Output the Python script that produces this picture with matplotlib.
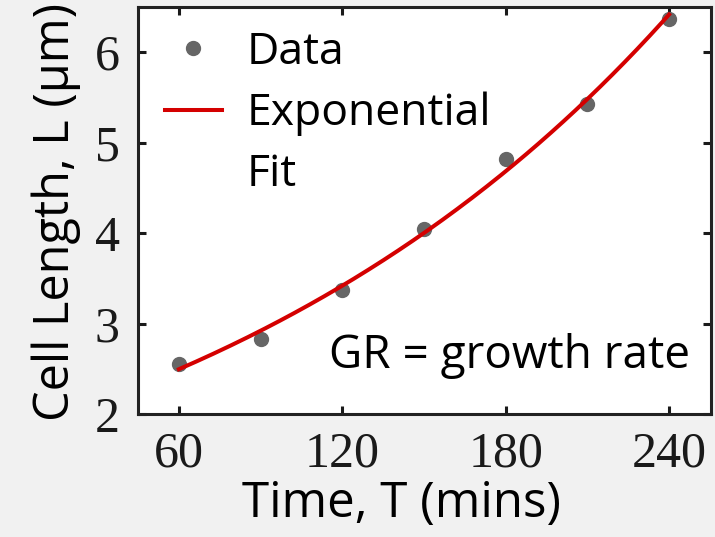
import numpy as np
import matplotlib
matplotlib.use("Agg")
import matplotlib.pyplot as plt
from matplotlib.lines import Line2D

# Data
time_min = [60, 90, 120, 150, 180, 210, 240]
cell_length = [2.55, 2.83, 3.37, 4.05, 4.82, 5.43, 6.37]
x_ticks = [60, 120, 180, 240]
y_ticks = [2, 3, 4, 5, 6]

t = np.array(time_min, dtype=float)
L = np.array(cell_length)
# exponential fit of the data (log-linear least squares)
k, lna = np.polyfit(t, np.log(L), 1)
t_fit = np.linspace(t.min(), t.max(), 200)
L_fit = np.exp(lna + k * t_fit)

sans = ["Open Sans", "DejaVu Sans"]
serif = ["Liberation Serif", "DejaVu Serif"]

fig = plt.figure(figsize=(7.15, 5.37), dpi=100, facecolor="#f1f1f1")
ax = fig.add_axes([0.193, 0.229, 0.8014, 0.758])
ax.set_facecolor("white")

pts, = ax.plot(t, L, "o", color="#666666", markersize=10, zorder=2)
fit, = ax.plot(t_fit, L_fit, "-", color="#d40000", linewidth=2.9, zorder=3)

ax.set_xlim(45, 255.4)
ax.set_ylim(2, 6.5)
ax.set_xticks(x_ticks)
ax.set_yticks(y_ticks)
ax.set_xticklabels([str(v) for v in x_ticks], fontfamily=serif, fontsize=36)
ax.set_yticklabels([str(v) for v in y_ticks], fontfamily=serif, fontsize=36)
ax.tick_params(axis="x", direction="in", length=6, width=2.2, top=True, pad=12, colors="#1a1a1a")
ax.tick_params(axis="y", direction="in", length=6, width=2.2, right=True, pad=13, colors="#1a1a1a")
for s in ax.spines.values():
    s.set_linewidth(2.2)
    s.set_color("#222222")

ax.set_xlabel("Time, T (mins)", fontfamily=sans, fontsize=35.5)
ax.set_ylabel("Cell Length, L (µm)", fontfamily=sans, fontsize=35)
ax.xaxis.set_label_coords(0.459, -0.16)
ax.yaxis.set_label_coords(-0.10, 0.496)

ax.text(0.963, 0.113, "GR = growth rate", transform=ax.transAxes, ha="right", va="baseline",
        fontfamily=sans, fontsize=33, color="black")

blank = Line2D([], [], linestyle="none", marker="none")
leg = ax.legend([pts, fit, blank], ["Data", "Exponential", "Fit"],
                loc="upper left", bbox_to_anchor=(0.047, 0.943), frameon=False,
                prop={"family": sans, "size": 32},
                handlelength=1.28, handletextpad=0.55, borderaxespad=0, borderpad=0,
                labelspacing=0.38)

fig.savefig("out.png", dpi=100, facecolor=fig.get_facecolor())
